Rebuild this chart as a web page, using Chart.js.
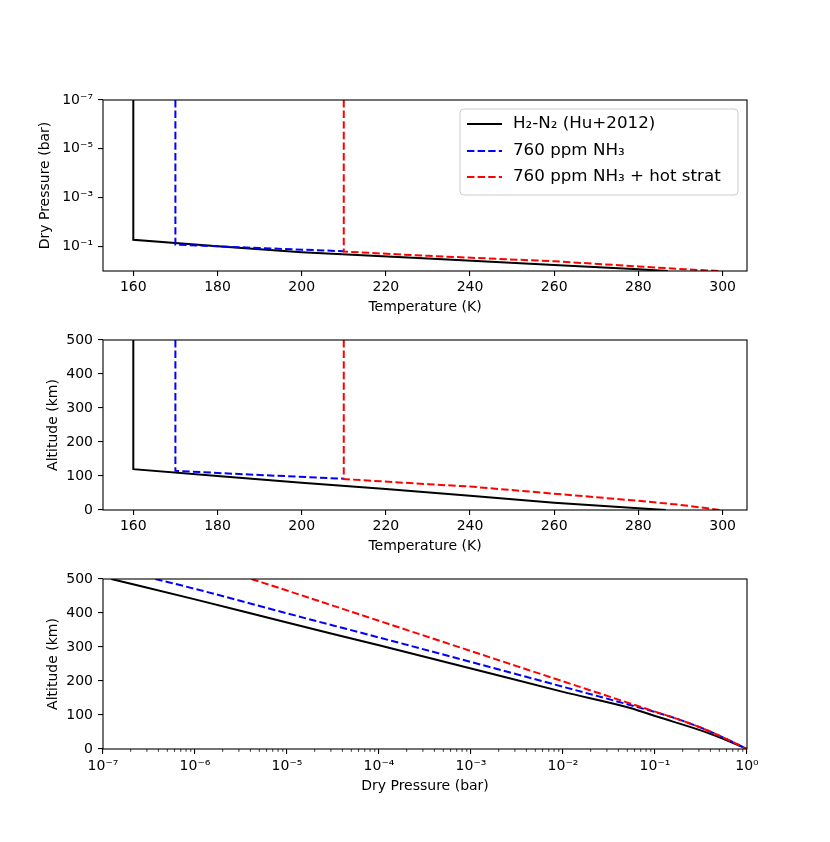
<!DOCTYPE html>
<html>
<head>
<meta charset="utf-8">
<script src="https://cdn.jsdelivr.net/npm/chart.js@4.4.0/dist/chart.umd.min.js"></script>
<style>
  body { margin: 0; background: #fff; width: 830px; height: 842px; position: relative; overflow: hidden; }
  canvas { position: absolute; left: 0; }
</style>
</head>
<body>
<canvas id="tempPressure" width="830" height="261" style="top:60px"></canvas>
<canvas id="tempAltitude" width="830" height="260" style="top:300px"></canvas>
<canvas id="pressureAltitude" width="830" height="261" style="top:540px"></canvas>
<script>
// series names
const seriesLabels = ['H\u2082-N\u2082 (Hu+2012)', '760 ppm NH\u2083', '760 ppm NH\u2083 + hot strat'];
const seriesColors = ['#000000', '#0000ff', '#ff0000'];

// axis ticks
const tempTicks = [160, 180, 200, 220, 240, 260, 280, 300];
const pressureTicksY = [1e-7, 1e-5, 1e-3, 1e-1];
const pressureTicksX = [1e-7, 1e-6, 1e-5, 1e-4, 1e-3, 1e-2, 1e-1, 1];
const altitudeTicks = [0, 100, 200, 300, 400, 500];

// panel 1: temperature (K) vs dry pressure (bar)
const h2n2Temp1 = [160, 160, 180, 200, 230, 260, 280, 287];
const h2n2Pres1 = [1e-7, 0.053, 0.097, 0.17, 0.31, 0.57, 0.85, 1.0];
const nh3Temp1 = [170, 170, 190, 210];
const nh3Pres1 = [1e-7, 0.083, 0.115, 0.155];
const hotTemp1 = [210, 210, 230, 260, 280, 291, 299.5];
const hotPres1 = [1e-7, 0.16, 0.24, 0.40, 0.65, 0.85, 1.0];

// panel 2: temperature (K) vs altitude (km)
const h2n2Temp2 = [160, 160, 180, 200, 220, 240, 260, 280, 286.5];
const h2n2Alt2 = [500, 120, 100, 80, 62, 42, 21, 5, 0];
const nh3Temp2 = [170, 170, 190, 210];
const nh3Alt2 = [500, 115, 103, 92];
const hotTemp2 = [210, 210, 230, 240, 260, 280, 290, 299.5];
const hotAlt2 = [500, 91, 76, 69, 48, 27, 15, 0];

// panel 3: dry pressure (bar) vs altitude (km)
const h2n2Pres3 = [1.23e-7, 1e-6, 1e-5, 1e-4, 1e-3, 1e-2, 0.055, 0.1, 0.32, 0.56, 1];
const h2n2Alt3 = [500, 440, 372, 305, 237, 168, 120, 97, 54, 29, 0];
const nh3Pres3 = [3.7e-7, 1e-6, 1e-5, 1e-4, 1e-3, 1e-2, 0.083, 0.16, 0.32, 0.56, 1];
const nh3Alt3 = [500, 471, 399, 328, 256, 183, 115, 92, 62, 33, 0];
const hotPres3 = [4.1e-6, 1e-5, 1e-4, 1e-3, 1e-2, 0.1, 0.16, 0.32, 0.56, 1];
const hotAlt3 = [500, 466, 377, 288, 199, 110, 92, 62, 33, 0];

Chart.defaults.font.family = "'DejaVu Sans', sans-serif";
Chart.defaults.font.size = 14;
Chart.defaults.color = '#000';

const SUP = { '-': '\u207b', '0': '\u2070', '1': '\u00b9', '2': '\u00b2', '3': '\u00b3',
  '4': '\u2074', '5': '\u2075', '6': '\u2076', '7': '\u2077', '8': '\u2078', '9': '\u2079' };

function powLabel(v) {
  const e = Math.round(Math.log10(v));
  return '10' + String(e).split('').map(c => SUP[c]).join('');
}

function zip(xs, ys) {
  return xs.map((x, i) => ({ x: x, y: ys[i] }));
}

function makeDatasets(pairs, smooth) {
  return pairs.map((p, i) => ({
    label: seriesLabels[i],
    data: zip(p[0], p[1]),
    borderColor: seriesColors[i],
    borderWidth: 2,
    borderDash: i === 0 ? [] : [7.4, 3.2],
    pointRadius: 0,
    fill: false,
    tension: smooth ? 0.4 : 0,
    cubicInterpolationMode: smooth ? 'monotone' : 'default',
    order: 2 - i
  }));
}

function fixedTicks(values) {
  return function (scale) {
    scale.ticks = values.map(v => ({ value: v }));
  };
}

const tickGrid = { drawOnChartArea: false, tickLength: 5, color: '#000', lineWidth: 1.1 };

// box around the plot area
const framePlugin = {
  id: 'frame',
  afterDraw(chart) {
    const a = chart.chartArea;
    const ctx = chart.ctx;
    ctx.save();
    ctx.strokeStyle = '#000';
    ctx.lineWidth = 1.1;
    ctx.strokeRect(a.left, a.top, a.right - a.left, a.bottom - a.top);
    ctx.restore();
  }
};

// legend drawn inside the top panel
const legendPlugin = {
  id: 'insideLegend',
  afterDraw(chart) {
    const ctx = chart.ctx;
    const x0 = 460, y0 = 49, w = 278, h = 86, r = 4;
    ctx.save();
    ctx.beginPath();
    ctx.moveTo(x0 + r, y0);
    ctx.arcTo(x0 + w, y0, x0 + w, y0 + h, r);
    ctx.arcTo(x0 + w, y0 + h, x0, y0 + h, r);
    ctx.arcTo(x0, y0 + h, x0, y0, r);
    ctx.arcTo(x0, y0, x0 + w, y0, r);
    ctx.closePath();
    ctx.fillStyle = 'rgba(255,255,255,0.8)';
    ctx.fill();
    ctx.strokeStyle = '#cccccc';
    ctx.lineWidth = 1;
    ctx.stroke();
    const rows = [64, 91, 117];
    chart.data.datasets.forEach((ds, i) => {
      ctx.beginPath();
      ctx.setLineDash(ds.borderDash);
      ctx.strokeStyle = ds.borderColor;
      ctx.lineWidth = 2;
      ctx.moveTo(467, rows[i]);
      ctx.lineTo(502, rows[i]);
      ctx.stroke();
      ctx.setLineDash([]);
      ctx.fillStyle = '#000';
      ctx.font = "16.7px 'DejaVu Sans'";
      ctx.textBaseline = 'middle';
      ctx.fillText(ds.label, 513, rows[i]);
    });
    ctx.restore();
  }
};

// minor ticks on the log pressure axis
const minorTickPlugin = {
  id: 'minorTicks',
  afterDraw(chart) {
    const s = chart.scales.x;
    const ctx = chart.ctx;
    ctx.save();
    ctx.strokeStyle = '#000';
    ctx.lineWidth = 0.8;
    for (let d = -7; d < 0; d++) {
      for (let k = 2; k <= 9; k++) {
        const px = s.getPixelForValue(k * Math.pow(10, d));
        ctx.beginPath();
        ctx.moveTo(px, chart.chartArea.bottom);
        ctx.lineTo(px, chart.chartArea.bottom + 2.8);
        ctx.stroke();
      }
    }
    ctx.restore();
  }
};

function makeChart(id, datasets, xScale, yScale, padTop, plugins) {
  return new Chart(document.getElementById(id), {
    type: 'line',
    data: { datasets: datasets },
    options: {
      responsive: false,
      animation: false,
      layout: { padding: { top: padTop, right: 83, left: 0, bottom: 0 } },
      plugins: { legend: { display: false }, tooltip: { enabled: false } },
      scales: { x: xScale, y: yScale }
    },
    plugins: [framePlugin].concat(plugins || [])
  });
}

function tempAxis(titlePad) {
  return {
    type: 'linear', min: 152.8, max: 305.8,
    afterBuildTicks: fixedTicks(tempTicks),
    afterFit: s => { s.height = 50; },
    grid: tickGrid, border: { display: false },
    ticks: { padding: 3, maxRotation: 0 },
    title: { display: true, text: 'Temperature (K)', padding: { top: 0, bottom: titlePad } }
  };
}

function altitudeAxis() {
  return {
    type: 'linear', min: 0, max: 500,
    afterBuildTicks: fixedTicks(altitudeTicks),
    afterFit: s => { s.width = 103; },
    grid: tickGrid, border: { display: false },
    ticks: { padding: 5 },
    title: { display: true, text: 'Altitude (km)', padding: { top: 45, bottom: 0 } }
  };
}

makeChart('tempPressure',
  makeDatasets([[h2n2Temp1, h2n2Pres1], [nh3Temp1, nh3Pres1], [hotTemp1, hotPres1]], false),
  tempAxis(5.6),
  {
    type: 'logarithmic', min: 1e-7, max: 1, reverse: true,
    afterBuildTicks: fixedTicks(pressureTicksY),
    afterFit: s => { s.width = 103; },
    grid: tickGrid, border: { display: false },
    ticks: { padding: 5, callback: v => powLabel(v) },
    title: { display: true, text: 'Dry Pressure (bar)', padding: { top: 37, bottom: 0 } }
  },
  40, [legendPlugin]);

makeChart('tempAltitude',
  makeDatasets([[h2n2Temp2, h2n2Alt2], [nh3Temp2, nh3Alt2], [hotTemp2, hotAlt2]], false),
  tempAxis(5.6),
  altitudeAxis(),
  40);

makeChart('pressureAltitude',
  makeDatasets([[h2n2Pres3, h2n2Alt3], [nh3Pres3, nh3Alt3], [hotPres3, hotAlt3]], true),
  {
    type: 'logarithmic', min: 1e-7, max: 1,
    afterBuildTicks: fixedTicks(pressureTicksX),
    afterFit: s => { s.height = 52; },
    grid: tickGrid, border: { display: false },
    ticks: { padding: 4, maxRotation: 0, callback: v => powLabel(v) },
    title: { display: true, text: 'Dry Pressure (bar)', padding: { top: 0, bottom: 6.6 } }
  },
  altitudeAxis(),
  39, [minorTickPlugin]);
</script>
</body>
</html>
